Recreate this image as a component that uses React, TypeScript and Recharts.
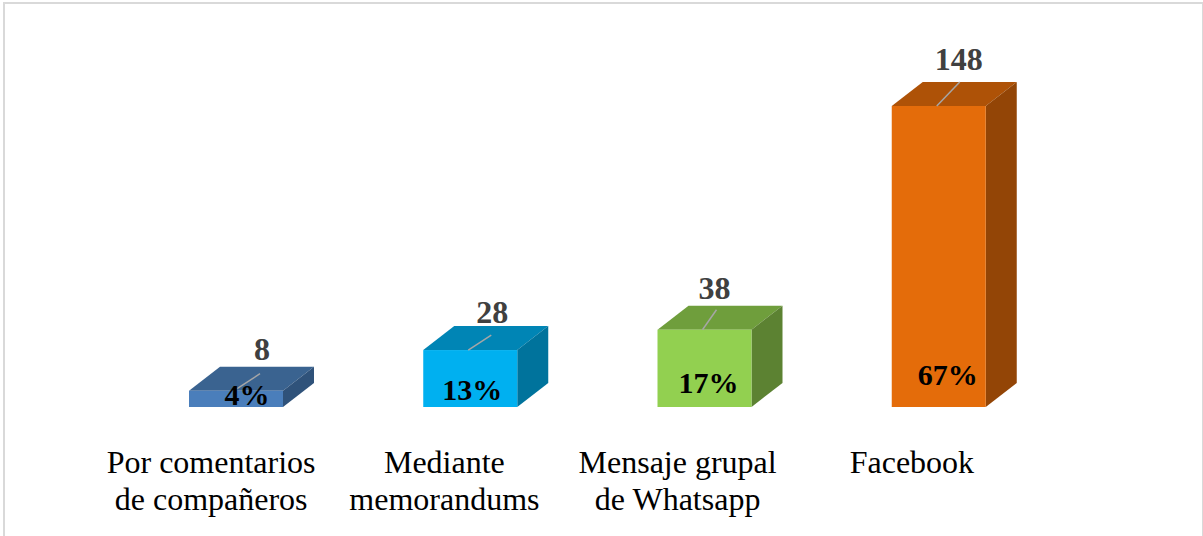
import { BarChart, Bar, XAxis, YAxis, LabelList } from "recharts";

const categories = [
  ["Por comentarios", "de compañeros"],
  ["Mediante", "memorandums"],
  ["Mensaje grupal", "de Whatsapp"],
  ["Facebook"],
];
const counts = [8, 28, 38, 148];
const percents = ["4%", "13%", "17%", "67%"];

const frontColors = ["#4a7ebb", "#00b0f0", "#92d050", "#e46c0a"];
const topColors = ["#3a6390", "#0085b5", "#6f9e3c", "#ae5207"];
const sideColors = ["#2f527a", "#00739c", "#5c8232", "#934506"];

// hand-placed label nudges, relative to the bar's front face
const countNudge = [
  { dx: 26, dy: -31 },
  { dx: 22, dy: -27 },
  { dx: 10, dy: -31 },
  { dx: 20, dy: -36 },
];
const percentNudge = [
  { dx: 11, dy: 14 },
  { dx: 2, dy: 50 },
  { dx: 4, dy: 63 },
  { dx: 9, dy: 279 },
];
const leaderEnd = [
  { dx: 26, dy: -17 },
  { dx: 23, dy: -15 },
  { dx: 14, dy: -20 },
  { dx: 23, dy: -24 },
];
const tickNudge = [-25, -26, -27, -27];

const data = categories.map((lines, i) => ({
  name: lines.join(" "),
  count: counts[i],
  percent: percents[i],
}));

const DEPTH_X = 31;
const DEPTH_Y = 24;
const SERIF = "'Liberation Serif', serif";

function Box(props: any) {
  const { x, y, width, height, index } = props;
  const r = x + width;
  const b = y + height;
  const mid = x + width / 2 - 2;
  return (
    <g>
      <polygon
        points={`${x},${y} ${x + DEPTH_X},${y - DEPTH_Y} ${r + DEPTH_X},${y - DEPTH_Y} ${r},${y}`}
        fill={topColors[index]}
      />
      <polygon
        points={`${r},${y} ${r + DEPTH_X},${y - DEPTH_Y} ${r + DEPTH_X},${b - DEPTH_Y} ${r},${b}`}
        fill={sideColors[index]}
      />
      <rect x={x} y={y} width={width} height={height} fill={frontColors[index]} />
      <line
        x1={mid}
        y1={y}
        x2={mid + leaderEnd[index].dx}
        y2={y + leaderEnd[index].dy}
        stroke="#a6a6a6"
        strokeWidth={1.5}
      />
    </g>
  );
}

function CountLabel(props: any) {
  const { x, y, width, index, value } = props;
  return (
    <text
      x={x + width / 2 + countNudge[index].dx}
      y={y + countNudge[index].dy}
      textAnchor="middle"
      fontFamily={SERIF}
      fontWeight="bold"
      fontSize={32}
      fill="#404040"
    >
      {value}
    </text>
  );
}

function PercentLabel(props: any) {
  const { x, y, width, index, value } = props;
  return (
    <text
      x={x + width / 2 + percentNudge[index].dx}
      y={y + percentNudge[index].dy}
      textAnchor="middle"
      fontFamily={SERIF}
      fontWeight="bold"
      fontSize={30}
      fill="#000000"
    >
      {value}
    </text>
  );
}

function CategoryTick(props: any) {
  const { x, payload, index } = props;
  const i = index ?? payload.index;
  return (
    <text textAnchor="middle" fontFamily={SERIF} fontSize={32} fill="#000000">
      {categories[i].map((line, n) => (
        <tspan key={line} x={x + tickNudge[i]} y={473 + n * 37}>
          {line}
        </tspan>
      ))}
    </text>
  );
}

export default function App() {
  return (
    <div
      style={{
        position: "absolute",
        left: 0,
        top: 0,
        width: 1203,
        height: 536,
        overflow: "hidden",
        background: "#fff",
      }}
    >
      <div
        style={{
          position: "absolute",
          left: 3,
          top: 2,
          width: 1197,
          height: 560,
          border: "2px solid #d9d9d9",
          borderRightWidth: 1,
        }}
      />
      <BarChart
        width={1203}
        height={536}
        data={data}
        margin={{ top: 106, right: 147, bottom: 0, left: 119 }}
        style={{ position: "absolute", left: 0, top: 0 }}
      >
        <XAxis
          dataKey="name"
          axisLine={false}
          tickLine={false}
          interval={0}
          tick={<CategoryTick />}
          height={129}
        />
        <YAxis hide domain={[0, 148]} />
        <Bar dataKey="count" barSize={94} shape={<Box />} isAnimationActive={false}>
          <LabelList dataKey="count" content={<CountLabel />} />
          <LabelList dataKey="percent" content={<PercentLabel />} />
        </Bar>
      </BarChart>
    </div>
  );
}
